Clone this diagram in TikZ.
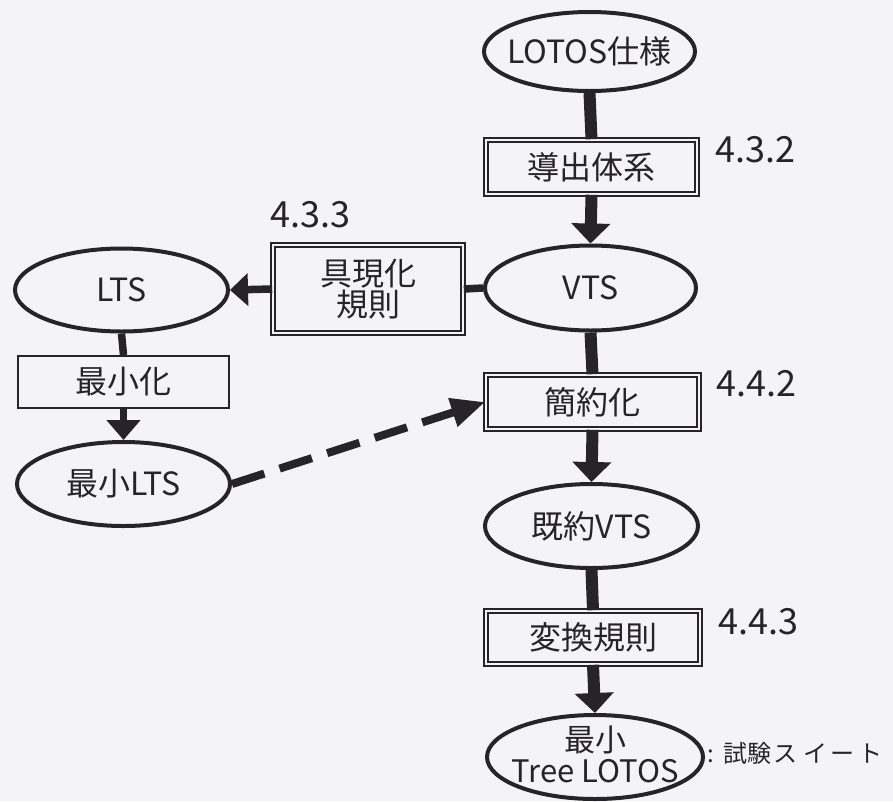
\documentclass[tikz,border=0pt]{standalone}
\usepackage{fontspec}
\setmainfont{Noto Sans CJK JP}
\usetikzlibrary{shapes.geometric,arrows.meta}
\definecolor{ink}{RGB}{38,36,42}
\definecolor{paper}{RGB}{244,244,246}
\begin{document}
\begin{tikzpicture}[x=1pt,y=-1pt,
  oval/.style={ellipse, draw=ink, line width=4pt, inner sep=0pt},
  dbox/.style={rectangle, draw=ink, double=paper, double distance=2.6pt, line width=1.6pt, inner sep=0pt},
  sbox/.style={rectangle, draw=ink, line width=2pt, inner sep=0pt},
  txt/.style={font=\fontsize{32}{31}\selectfont, text=ink, inner sep=0pt, align=center},
  num/.style={font=\fontsize{36}{36}\selectfont, text=ink, inner sep=0pt, anchor=west},
  mainline/.style={draw=ink, line width=12pt},
  mainarrow/.style={mainline, -{Triangle[width=38pt,length=20pt]}},
  sideline/.style={draw=ink, line width=7.5pt},
  sidearrow/.style={sideline, -{Triangle[width=32pt,length=18pt]}},
  dasharrow/.style={draw=ink, line width=8pt, dash pattern=on 34pt off 16pt, -{Triangle[width=28pt,length=34pt]}}
]
\fill[paper] (0,0) rectangle (893,801);
\useasboundingbox (0,0) rectangle (893,801);

% ellipses
\node[oval, minimum width=211pt, minimum height=79pt] (lotos) at (589.5,51.5) {};
\node[oval, minimum width=211pt, minimum height=85pt] (vts) at (590.5,288) {};
\node[oval, minimum width=213pt, minimum height=83pt] (lts) at (121.5,290) {};
\node[oval, minimum width=213pt, minimum height=84pt] (minlts) at (123.5,484) {};
\node[oval, minimum width=213pt, minimum height=84pt] (irvts) at (591.5,526) {};
\node[oval, minimum width=216pt, minimum height=84pt] (tree) at (595,757) {};

% boxes
\node[dbox, minimum width=211pt, minimum height=54pt] (derive) at (591.5,167) {};
\node[dbox, minimum width=190pt, minimum height=88pt] (realize) at (368,289) {};
\node[dbox, minimum width=213pt, minimum height=54pt] (reduce) at (592.5,402) {};
\node[dbox, minimum width=214pt, minimum height=53pt] (transform) at (593,637.5) {};
\node[sbox, minimum width=211pt, minimum height=52pt] (minimize) at (123.5,382) {};

% texts
\node[txt] (lotost) at (lotos) {LOTOS仕様};
\node[txt] (vtst) at (vts) {VTS};
\node[txt] (ltst) at (lts) {LTS};
\node[txt] (minltst) at (minlts) {最小LTS};
\node[txt] (irvtst) at (irvts) {既約VTS};
\node[txt, font=\fontsize{31}{31}\selectfont] (treet) at (595,754) {最小\\Tree LOTOS};
\node[txt] (derivet) at (derive) {導出体系};
\node[txt] (realizet) at (realize) {具現化\\規則};
\node[txt] (reducet) at (reduce) {簡約化};
\node[txt] (transformt) at (transform) {変換規則};
\node[txt] (minimizet) at (minimize) {最小化};

% section numbers
\node[num] (n432) at (715,150) {4.3.2};
\node[num] (n433) at (270,215) {4.3.3};
\node[num] (n442) at (716,384) {4.4.2};
\node[num] (n443) at (718,622) {4.4.3};
\node[txt, font=\fontsize{24}{24}\selectfont, anchor=west] (suite) at (707,753)
  {:\hspace{10pt}試験\hspace{2pt}ス\hspace{6pt}イ\hspace{3pt}ー\hspace{4pt}ト};

% connectors
\draw[mainline] (lotos.south) -- (derive.north);
\draw[mainarrow] (derive.south) -- (vts.north);
\draw[sideline] (vts.west) -- (realize.east);
\draw[sidearrow] (realize.west) -- (lts.east);
\draw[sideline] (lts.south) -- (minimize.north);
\draw[sideline, -{Triangle[width=33pt,length=20pt]}] (minimize.south) -- (minlts.north);
\draw[mainline] (vts.south) -- (reduce.north);
\draw[dasharrow] (minlts.east) -- (reduce.west);
\draw[mainarrow] (reduce.south) -- (irvts.north);
\draw[mainline] (irvts.south) -- (transform.north);
\draw[mainarrow] (transform.south) -- (tree.north);
\end{tikzpicture}
\end{document}
